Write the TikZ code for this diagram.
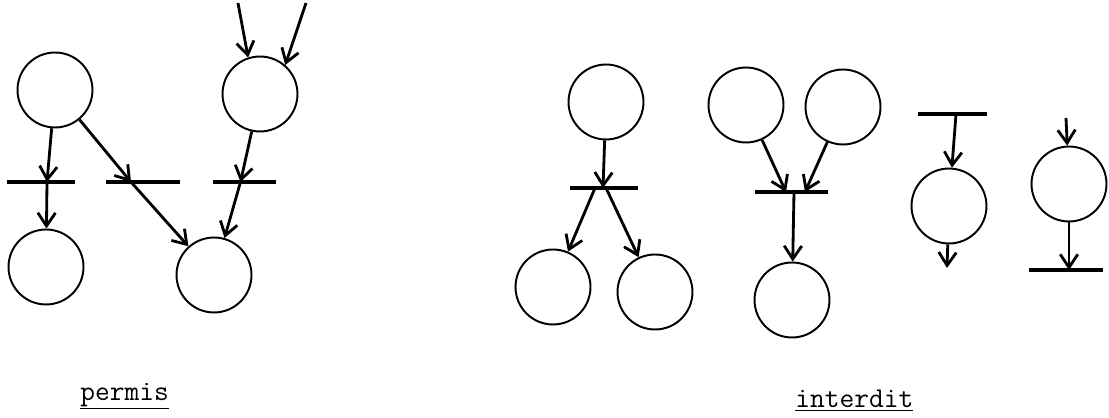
\documentclass[tikz,border=0pt]{standalone}
\usepackage{fontspec}
\usepackage{tikz}
\usetikzlibrary{arrows.meta, calc}

\begin{document}
\begin{tikzpicture}[x=0.02cm, y=-0.02cm, >={Straight Barb[length=7.5pt, width=10pt]},
    placenode/.style={circle, draw, line width=1.1pt, minimum size=1.5cm, inner sep=0pt},
    transbar/.style={fill=black, draw=none, rectangle, inner sep=0pt, minimum height=0.08cm},
    arc/.style={->, line width=1.6pt},
    caption/.style={anchor=base west, inner sep=0pt, font=\ttfamily\fontsize{16.3}{18}\selectfont}]
    \useasboundingbox (0,0) rectangle (1109,418);

    \node[placenode] (pA) at (55,90) {};
    \node[placenode] (pB) at (260,94) {};
    \node[placenode] (pC) at (46,267) {};
    \node[placenode] (pD) at (214,275) {};
    \node[transbar, minimum width=1.36cm] (t1) at (41,182) {};
    \node[transbar, minimum width=1.48cm] (t2) at (143,182) {};
    \node[transbar, minimum width=1.26cm] (t3) at (244.5,182) {};
    \coordinate (inB1) at (238,3);
    \coordinate (inB2) at (306,3);

    \draw[arc] (pA) -- ($(t1)+(6,0)$);
    \draw[arc] ($(t1)+(6,0)$) -- (pC);
    \draw[arc] (pA) -- ($(t2)+(-12,0)$);
    \draw[arc] ($(t2)+(-12,0)$) -- (pD);
    \draw[arc] (pB) -- ($(t3)+(-4,0)$);
    \draw[arc] ($(t3)+(-4,0)$) -- (pD);
    \draw[arc] (inB1) -- (pB.108);
    \draw[arc] (inB2) -- (pB.49);

    \node[placenode] (pE) at (606,102) {};
    \node[placenode] (pF) at (553,287) {};
    \node[placenode] (pG) at (655,292) {};
    \node[transbar, minimum width=1.36cm] (t4) at (604,188) {};
    \draw[arc] (pE) -- ($(t4)+(-1,0)$);
    \draw[arc] ($(t4)+(-9,0)$) -- (pF);
    \draw[arc] ($(t4)+(2,0)$) -- (pG);

    \node[placenode] (pH) at (746,105) {};
    \node[placenode] (pI) at (843,107) {};
    \node[placenode] (pJ) at (792,300) {};
    \node[transbar, minimum width=1.46cm] (t5) at (791.5,192) {};
    \draw[arc] (pH) -- ($(t5)+(-5.5,0)$);
    \draw[arc] (pI) -- ($(t5)+(13.5,0)$);
    \draw[arc] ($(t5)+(2.5,0)$) -- (pJ);

    \node[placenode] (pK) at (949,206) {};
    \node[transbar, minimum width=1.38cm] (t6) at (952.5,114) {};
    \coordinate (outK) at (947,268);
    \draw[arc] ($(t6)+(3.5,0)$) -- (pK);
    \draw[arc] (pK) -- (outK);

    \node[placenode] (pL) at (1069,184) {};
    \node[transbar, minimum width=1.48cm] (t7) at (1066,270) {};
    \coordinate (inL) at (1066,118);
    \draw[arc] (inL) -- (pL);
    \draw[arc] (pL) -- ($(t7)+(3,0)$);

    \node[caption] (permis) at (80,400) {\underline{permis}};
    \node[caption] (interdit) at (795,408) {\underline{interdit}};
\end{tikzpicture}
\end{document}
